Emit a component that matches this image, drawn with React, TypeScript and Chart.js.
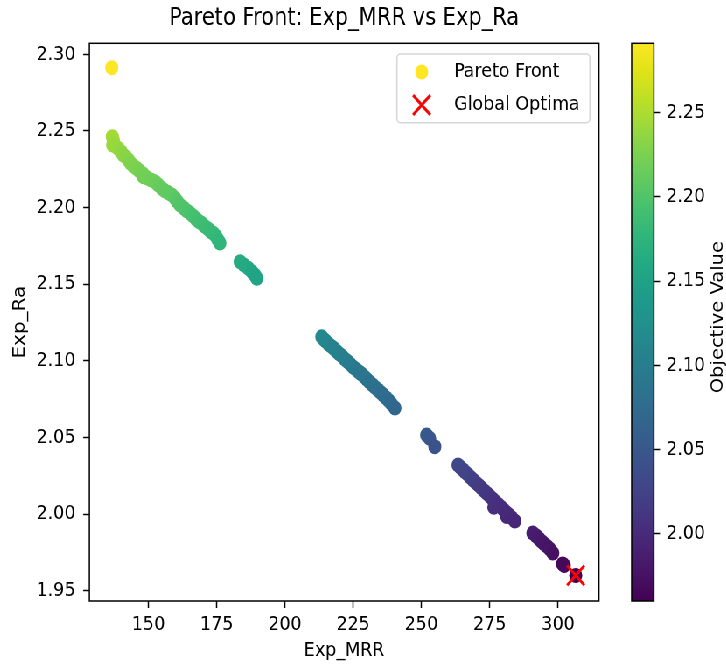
import React, { useEffect, useRef } from 'react';
import { Chart, registerables } from 'chart.js';

Chart.register(...registerables);

// ---------------- data ----------------
const chartTitle = 'Pareto Front: Exp_MRR vs Exp_Ra';
const xLabel = 'Exp_MRR';
const yLabel = 'Exp_Ra';
const cbLabel = 'Objective Value';
const seriesLabels = ['Pareto Front', 'Global Optima'];

const expMRR = [
  136.6, 136.8, 137.2, 136.9, 138.0, 139.0, 140.0, 140.8, 141.8, 142.7,
  143.5, 144.5, 145.7, 146.8, 148.0, 148.2, 149.5, 151.0, 152.4, 153.5,
  154.9, 156.0, 157.2, 158.6, 159.8, 160.6, 161.6, 162.8, 164.0, 165.3,
  166.4, 167.5, 168.5, 169.5, 170.5, 171.8, 172.8, 173.8, 174.8, 175.5,
  176.2,
  183.6, 185.0, 186.6, 188.0, 189.0, 189.7,
  213.5, 214.3, 215.0, 216.0, 217.0, 218.0, 219.0, 220.0, 221.0, 222.0,
  223.0, 224.0, 225.0, 226.0, 227.0, 228.0, 229.0, 230.0, 231.0, 232.0,
  233.0, 234.0, 235.0, 236.0, 237.0, 238.0, 239.0, 240.3,
  251.9, 253.0, 254.9,
  263.4, 264.3, 265.2, 266.0, 267.0, 268.0, 269.0, 270.0, 271.0, 272.0,
  273.0, 274.0, 275.0, 276.0, 276.5, 277.0, 278.0, 279.0, 280.0, 281.0,
  281.2, 282.0, 283.0, 284.2,
  290.8, 292.0, 293.0, 294.0, 295.0, 296.0, 297.0, 298.1,
  301.7, 302.3,
  306.5,
];

const expRa = [
  2.2913, 2.2463, 2.2440, 2.2408, 2.2400, 2.2385, 2.2365, 2.2343, 2.2330, 2.2311,
  2.2290, 2.2272, 2.2256, 2.2238, 2.2220, 2.2202, 2.2195, 2.2180, 2.2169, 2.2150,
  2.2126, 2.2110, 2.2098, 2.2082, 2.2060, 2.2040, 2.2017, 2.2000, 2.1980, 2.1963,
  2.1945, 2.1925, 2.1910, 2.1898, 2.1880, 2.1862, 2.1845, 2.1832, 2.1812, 2.1790,
  2.1769,
  2.1647, 2.1625, 2.1604, 2.1580, 2.1560, 2.1539,
  2.1157, 2.1140, 2.1128, 2.1110, 2.1095, 2.1080, 2.1062, 2.1045, 2.1030, 2.1010,
  2.0995, 2.0978, 2.0960, 2.0945, 2.0930, 2.0915, 2.0898, 2.0880, 2.0862, 2.0845,
  2.0828, 2.0812, 2.0795, 2.0778, 2.0760, 2.0742, 2.0720, 2.0692,
  2.0516, 2.0495, 2.0440,
  2.0320, 2.0305, 2.0290, 2.0275, 2.0258, 2.0240, 2.0222, 2.0205, 2.0188, 2.0170,
  2.0152, 2.0135, 2.0118, 2.0100, 2.0045, 2.0082, 2.0065, 2.0048, 2.0030, 2.0012,
  1.9985, 1.9995, 1.9978, 1.9955,
  1.9877, 1.9858, 1.9840, 1.9822, 1.9805, 1.9790, 1.9772, 1.9746,
  1.9675, 1.9665,
  1.9600,
];

// objective value shown by the colour bar (tracks Exp_Ra)
const objectiveValue = expRa;

const optimaMRR = [306.5];
const optimaRa = [1.9600];

const xTicks = [150, 175, 200, 225, 250, 275, 300];
const yTicks = [1.95, 2.0, 2.05, 2.1, 2.15, 2.2, 2.25, 2.3];
const cbTicks = [2.0, 2.05, 2.1, 2.15, 2.2, 2.25];

const xRange = [128.4, 315.0];
const yRange = [1.9433, 2.3072];

// ---------------- styling ----------------
const VIRIDIS = [
  '#440154', '#471365', '#482475', '#463480', '#414487', '#3b528b', '#355f8d',
  '#2f6c8e', '#2a788e', '#25848e', '#21918c', '#1e9c89', '#22a884', '#2fb47c',
  '#44bf70', '#5ec962', '#7ad151', '#9bd93c', '#bddf26', '#dfe318', '#fde725',
];

function hexToRgb(h: string) {
  return [parseInt(h.slice(1, 3), 16), parseInt(h.slice(3, 5), 16), parseInt(h.slice(5, 7), 16)];
}
function viridis(t: number) {
  const tt = Math.max(0, Math.min(1, t)) * (VIRIDIS.length - 1);
  const i = Math.min(Math.floor(tt), VIRIDIS.length - 2);
  const f = tt - i;
  const a = hexToRgb(VIRIDIS[i]);
  const b = hexToRgb(VIRIDIS[i + 1]);
  const c = a.map((v, k) => Math.round(v + (b[k] - v) * f));
  return `rgb(${c[0]},${c[1]},${c[2]})`;
}

const W = 830;
const H = 666;
const SX = 0.875;
const FONT = 'DejaVu Sans';
const BAR_W = 25.4;

const cMin = Math.min(...objectiveValue);
const cMax = Math.max(...objectiveValue);

const decorPlugin = {
  id: 'decor',
  afterDatasetsDraw(chart: any) {
    const { ctx, chartArea: ca } = chart;
    ctx.save();
    ctx.strokeStyle = '#000';
    ctx.lineWidth = 1.5;
    ctx.strokeRect(ca.left, ca.top, ca.right - ca.left, ca.bottom - ca.top);
    ctx.restore();
  },
  afterDraw(chart: any) {
    const { ctx, chartArea: ca } = chart;
    const cb = chart.scales.cb;
    // colour bar
    ctx.save();
    const x1 = cb.left;
    const x0 = x1 - BAR_W;
    const y0 = cb.top;
    const y1 = cb.bottom;
    const g = ctx.createLinearGradient(0, y1, 0, y0);
    VIRIDIS.forEach((c, i) => g.addColorStop(i / (VIRIDIS.length - 1), c));
    ctx.fillStyle = g;
    ctx.fillRect(x0, y0, x1 - x0, y1 - y0);
    ctx.strokeStyle = '#000';
    ctx.lineWidth = 1.5;
    ctx.strokeRect(x0, y0, x1 - x0, y1 - y0);
    // colour bar label
    ctx.translate(820.6, (y0 + y1) / 2 - 5);
    ctx.rotate(-Math.PI / 2);
    ctx.fillStyle = '#000';
    ctx.font = `19.5px "${FONT}"`;
    ctx.textAlign = 'center';
    ctx.textBaseline = 'middle';
    ctx.fillText(cbLabel, 0, 0);
    ctx.restore();

    // legend
    ctx.save();
    const right = ca.right - 10.3;
    const left = right - 220.6;
    const top = ca.top + 10.7;
    const h = 68.7;
    const r = 4;
    ctx.beginPath();
    ctx.moveTo(left + r, top);
    ctx.lineTo(right - r, top);
    ctx.arcTo(right, top, right, top + r, r);
    ctx.lineTo(right, top + h - r);
    ctx.arcTo(right, top + h, right - r, top + h, r);
    ctx.lineTo(left + r, top + h);
    ctx.arcTo(left, top + h, left, top + h - r, r);
    ctx.lineTo(left, top + r);
    ctx.arcTo(left, top, left + r, top, r);
    ctx.closePath();
    ctx.fillStyle = 'rgba(255,255,255,0.8)';
    ctx.fill();
    ctx.strokeStyle = '#d6d6d6';
    ctx.lineWidth = 1.5;
    ctx.stroke();

    const mx = left + 28.3;
    const tx = left + 65.2;
    const r1 = top + 18;
    const r2 = top + 51;
    ctx.beginPath();
    ctx.arc(mx, r1, 7.5, 0, Math.PI * 2);
    ctx.fillStyle = viridis(1);
    ctx.fill();
    const d = 9.9;
    ctx.beginPath();
    ctx.moveTo(mx - d, r2 - d);
    ctx.lineTo(mx + d, r2 + d);
    ctx.moveTo(mx + d, r2 - d);
    ctx.lineTo(mx - d, r2 + d);
    ctx.strokeStyle = 'red';
    ctx.lineWidth = 3;
    ctx.stroke();
    ctx.fillStyle = '#000';
    ctx.font = `20px "${FONT}"`;
    ctx.textAlign = 'left';
    ctx.textBaseline = 'middle';
    ctx.fillText(seriesLabels[0], tx, r1);
    ctx.fillText(seriesLabels[1], tx, r2);
    ctx.restore();
  },
};

export default function App() {
  const ref = useRef<HTMLCanvasElement>(null);

  useEffect(() => {
    const canvas = ref.current as HTMLCanvasElement;
    Chart.defaults.font.family = FONT;
    Chart.defaults.color = '#000';

    const tickFont = { family: FONT, size: 20 };
    const gridOpts = {
      display: true,
      drawOnChartArea: false,
      drawTicks: true,
      tickLength: 7,
      tickWidth: 1.5,
      tickColor: '#000',
    };

    const chart = new Chart(canvas, {
      type: 'scatter',
      data: {
        datasets: [
          {
            label: seriesLabels[1],
            data: optimaMRR.map((x, i) => ({ x, y: optimaRa[i] })),
            pointStyle: 'crossRot',
            pointRadius: 14,
            borderWidth: 3,
            borderColor: 'red',
            backgroundColor: 'red',
            order: 0,
          },
          {
            label: seriesLabels[0],
            data: expMRR.map((x, i) => ({ x, y: expRa[i] })),
            pointRadius: 7.5,
            borderWidth: 0,
            backgroundColor: objectiveValue.map((v) => viridis((v - cMin) / (cMax - cMin))),
            order: 1,
          },
        ],
      },
      options: {
        responsive: false,
        animation: false,
        devicePixelRatio: 1,
        layout: { padding: 0 },
        plugins: {
          legend: { display: false },
          tooltip: { enabled: false },
          title: {
            display: true,
            text: chartTitle,
            fullSize: false,
            color: '#000',
            font: { family: FONT, size: 24, weight: 'normal' },
            padding: { top: 4, bottom: 10.5 },
          },
        },
        scales: {
          x: {
            type: 'linear',
            position: 'bottom',
            min: xRange[0],
            max: xRange[1],
            afterFit: (s: any) => { s.height = 65; },
            afterBuildTicks: (s: any) => { s.ticks = xTicks.map((v) => ({ value: v })); },
            ticks: { font: tickFont, color: '#000', padding: 5, maxRotation: 0, autoSkip: false, callback: (v: any) => String(v) },
            grid: gridOpts,
            border: { display: false },
            title: { display: true, text: xLabel, color: '#000', font: { family: FONT, size: 20 }, padding: { top: 0, bottom: 3 } },
          },
          y: {
            type: 'linear',
            position: 'left',
            min: yRange[0],
            max: yRange[1],
            afterFit: (s: any) => { s.width = 102.1; },
            afterBuildTicks: (s: any) => { s.ticks = yTicks.map((v) => ({ value: v })); },
            ticks: { font: tickFont, color: '#000', padding: 9, autoSkip: false, callback: (v: any) => Number(v).toFixed(2) },
            grid: gridOpts,
            border: { display: false },
            title: { display: true, text: yLabel, color: '#000', font: { family: FONT, size: 20 }, padding: { top: 11, bottom: 0 } },
          },
          gap: {
            type: 'linear',
            position: 'right',
            weight: 1,
            min: 0,
            max: 1,
            afterFit: (s: any) => { s.width = 62.8; },
            ticks: { display: false },
            grid: { display: false },
            border: { display: false },
          },
          cb: {
            type: 'linear',
            position: 'right',
            weight: 2,
            min: cMin,
            max: cMax,
            afterFit: (s: any) => { s.width = 82.6; },
            afterBuildTicks: (s: any) => { s.ticks = cbTicks.map((v) => ({ value: v })); },
            ticks: { font: tickFont, color: '#000', padding: 7, autoSkip: false, callback: (v: any) => Number(v).toFixed(2) },
            grid: gridOpts,
            border: { display: false },
          },
        },
      } as any,
      plugins: [decorPlugin],
    });

    return () => chart.destroy();
  }, []);

  return (
    <div
      style={{
        position: 'absolute',
        left: 0,
        top: 0,
        width: W,
        height: H,
        transform: `scaleX(${SX})`,
        transformOrigin: '0 0',
        background: '#fff',
      }}
    >
      <canvas ref={ref} width={W} height={H} style={{ width: W, height: H, display: 'block' }} />
    </div>
  );
}
